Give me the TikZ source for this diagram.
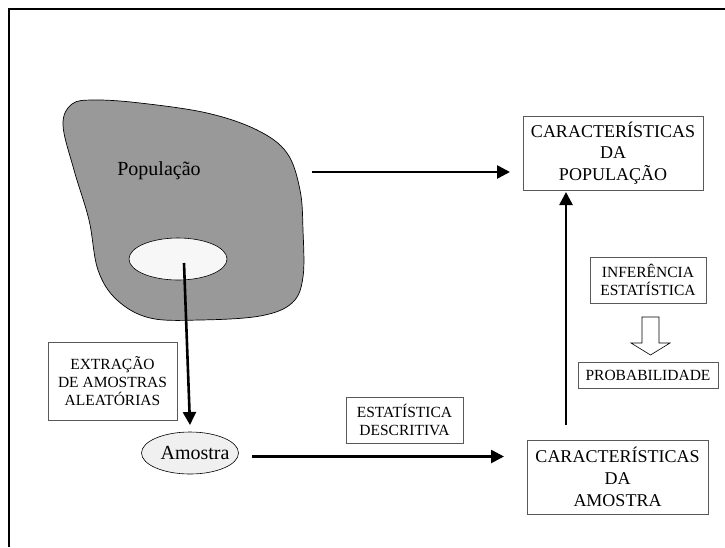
\documentclass[tikz,border=0pt]{standalone}
\usepackage{fontspec}
\setmainfont{Liberation Serif}
\usetikzlibrary{arrows.meta,shapes.geometric}
\tikzset{
  lbox/.style={draw=black!65, line width=0.8pt, fill=white, align=center, inner sep=0pt, font=\fontsize{15.5}{18}\selectfont},
  bbox/.style={draw=black!65, line width=0.8pt, fill=white, align=center, inner sep=0pt, font=\fontsize{18}{21.7}\selectfont},
  flow/.style={line width=2.6pt, -{Triangle[length=13pt,width=13pt]}, shorten >=0pt},
}
\begin{document}
\begin{tikzpicture}[x=1pt,y=-1pt]
\useasboundingbox (0,0) rectangle (725,547);
% frame (top and left)
\draw[line width=2.4pt] (9,547) -- (9,9) -- (725,9);
% population blob
\draw[fill=black!40, line width=0.7pt] plot[smooth cycle, tension=0.6] coordinates {
 (63,125) (72,104) (95,100) (140,103) (207,113) (257,130) (287,153) (300,190) (303,230) (303,277) (292,303) (260,316) (200,320) (150,318) (117,300) (98,270) (89,220) (74,170)};
\node[font=\fontsize{20}{24}\selectfont] (pop) at (159,171) {População};
\node[ellipse, draw, line width=0.6pt, fill=black!3, minimum width=98pt, minimum height=42pt, inner sep=0pt] (sub) at (178,259) {};
\coordinate (subc) at (184,263);
% sample
\node[ellipse, draw, line width=0.6pt, fill=black!6, minimum width=97pt, minimum height=42pt, inner sep=0pt] (amo) at (190,453) {};
\node[font=\fontsize{20}{24}\selectfont] (amot) at (195,453) {Amostra};
% boxes
\node[bbox, minimum width=180pt, minimum height=74pt] (cpop) at (613,153) {CARACTERÍSTICAS\\DA\\POPULAÇÃO};
\node[bbox, minimum width=181pt, minimum height=74pt] (camo) at (617.5,477) {CARACTERÍSTICAS\\DA\\AMOSTRA};
\node[lbox, minimum width=129pt, minimum height=78pt] (ext) at (112.5,381) {EXTRAÇÃO\\DE AMOSTRAS\\ALEATÓRIAS};
\node[lbox, minimum width=117pt, minimum height=46pt] (est) at (404.5,420) {ESTATÍSTICA\\DESCRITIVA};
\node[lbox, minimum width=116pt, minimum height=46pt] (inf) at (648,280) {INFERÊNCIA\\ESTATÍSTICA};
\node[lbox, minimum width=140pt, minimum height=26pt] (prob) at (648,375) {PROBABILIDADE};
% arrows
\coordinate (p1) at (312,172);
\coordinate (p2) at (510,172);
\draw[flow] (p1) -- (p2);
\coordinate (s2) at (190,425);
\draw[flow] (subc) -- (s2);
\coordinate (a1) at (252,456.5);
\coordinate (a2) at (504,456.5);
\draw[flow] (a1) -- (a2);
\coordinate (v1) at (566,425);
\coordinate (v2) at (566,192);
\draw[flow] (v1) -- (v2);
% open arrow
\draw[line width=0.6pt, fill=white] (642,317) -- (659,317) -- (659,343) -- (670,343) -- (650.5,355) -- (631,343) -- (642,343) -- cycle;
\end{tikzpicture}
\end{document}
